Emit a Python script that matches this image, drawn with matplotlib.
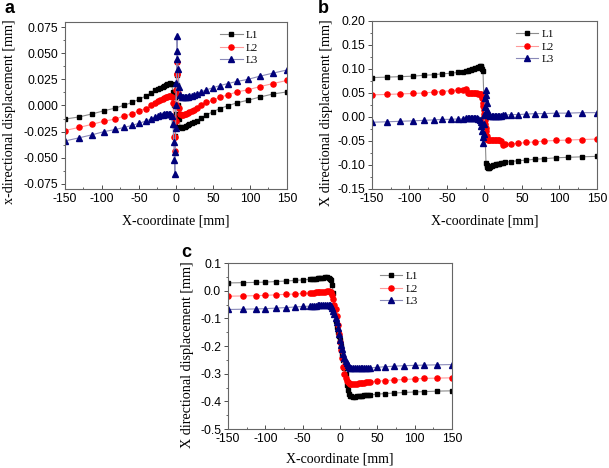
import matplotlib
matplotlib.use("Agg")
import matplotlib.pyplot as plt
from matplotlib.ticker import MultipleLocator, AutoMinorLocator, FormatStrFormatter

plt.rcParams['axes.unicode_minus'] = False

# ---- panel a ----
xa = [-150, -131, -113, -97, -82, -70, -59, -50, -41, -34, -28, -24, -21, -18, -16, -14, -12, -10, -8, -6,
      -4, -3, -2, -1.5, -1, -0.5, 0, 0.5, 1, 1.5, 2, 3, 4,
      6, 8, 10, 12, 14, 16, 18, 21, 24, 28, 34, 41, 50, 59, 70, 82, 97, 113, 131, 150]
a_l1 = [-0.013, -0.011, -0.008, -0.005, -0.0025, 0.0003, 0.003, 0.006, 0.009, 0.012, 0.0145, 0.016, 0.017, 0.018, 0.019, 0.020, 0.0205, 0.021, 0.022, 0.021,
        0.013, 0.000, -0.016, -0.029, -0.020, -0.008, 0.000, 0.008, 0.020, 0.029, 0.016, 0.000, -0.013,
        -0.021, -0.022, -0.021, -0.0205, -0.020, -0.019, -0.018, -0.017, -0.016, -0.0145, -0.012, -0.009, -0.006, -0.003, -0.0003, 0.0025, 0.005, 0.008, 0.011, 0.013]
a_l2 = [-0.024, -0.021, -0.018, -0.015, -0.013, -0.010, -0.008, -0.005, -0.003, 0.000, 0.002, 0.004, 0.005, 0.006, 0.007, 0.008, 0.008, 0.009, 0.009, 0.008,
        0.002, -0.012, -0.030, -0.044, -0.030, -0.015, 0.000, 0.015, 0.030, 0.042, 0.030, 0.012, -0.002,
        -0.008, -0.009, -0.009, -0.008, -0.008, -0.007, -0.006, -0.005, -0.004, -0.002, 0.000, 0.003, 0.005, 0.008, 0.010, 0.013, 0.015, 0.018, 0.021, 0.024]
a_l3 = [-0.034, -0.031, -0.028, -0.025, -0.023, -0.021, -0.019, -0.017, -0.015, -0.013, -0.011, -0.010, -0.009, -0.009, -0.008, -0.008, -0.008, -0.008, -0.008, -0.010,
        -0.018, -0.035, -0.052, -0.066, -0.045, -0.022, 0.000, 0.022, 0.045, 0.067, 0.052, 0.035, 0.018,
        0.010, 0.008, 0.008, 0.008, 0.008, 0.008, 0.009, 0.009, 0.010, 0.011, 0.013, 0.015, 0.017, 0.019, 0.021, 0.023, 0.025, 0.028, 0.031, 0.034]

# ---- panel b ----
xb1 = [-150, -130, -112, -95, -80, -67, -56, -45, -35, -28, -25, -22, -20, -18, -16, -14, -12, -10, -8, -6,
       -5, -4, -3, -2, 2, 3, 4, 5,
       6, 8, 10, 12, 14, 16, 18, 20, 22, 25, 28, 35, 45, 56, 67, 80, 95, 112, 130, 150]
b_l1 = [0.082, 0.083, 0.084, 0.085, 0.087, 0.088, 0.090, 0.091, 0.093, 0.094, 0.095, 0.096, 0.097, 0.098, 0.099, 0.100, 0.101, 0.102, 0.104, 0.106,
        0.107, 0.105, 0.100, 0.095, -0.095, -0.100, -0.105, -0.107,
        -0.106, -0.104, -0.102, -0.101, -0.100, -0.099, -0.098, -0.097, -0.096, -0.095, -0.094, -0.093, -0.091, -0.090, -0.088, -0.087, -0.085, -0.084, -0.083, -0.082]
xb = [-150, -130, -112, -95, -80, -67, -56, -45, -35, -28, -25, -22, -20, -18, -16, -14, -12, -10, -8, -6,
      -5, -4, -3, -2, -1.5, -1, -0.5, 0, 0.5, 1, 1.5, 2, 3, 4, 5,
      6, 8, 10, 12, 14, 16, 18, 20, 22, 25, 28, 35, 45, 56, 67, 80, 95, 112, 130, 150]
b_l2 = [0.046, 0.047, 0.048, 0.049, 0.050, 0.052, 0.053, 0.055, 0.056, 0.057, 0.058, 0.050, 0.049, 0.049, 0.049, 0.049, 0.049, 0.049, 0.048, 0.048,
        0.047, 0.045, 0.040, 0.030, 0.022, 0.015, 0.007, 0.000, -0.007, -0.015, -0.022, -0.030, -0.040, -0.045, -0.047,
        -0.048, -0.048, -0.049, -0.049, -0.049, -0.049, -0.049, -0.049, -0.050, -0.058, -0.057, -0.056, -0.055, -0.053, -0.052, -0.050, -0.049, -0.048, -0.047, -0.046]
b_l3 = [-0.011, -0.010, -0.009, -0.008, -0.007, -0.006, -0.005, -0.005, -0.004, -0.004, -0.003, -0.003, -0.003, -0.003, -0.003, -0.003, -0.003, -0.003, -0.004, -0.006,
        -0.010, -0.018, -0.030, -0.042, -0.055, -0.035, -0.015, 0.005, 0.020, 0.040, 0.057, 0.045, 0.030, 0.015, 0.008,
        0.004, 0.003, 0.003, 0.003, 0.003, 0.003, 0.003, 0.003, 0.003, 0.004, 0.004, 0.005, 0.005, 0.006, 0.007, 0.007, 0.008, 0.008, 0.009, 0.009]

# ---- panel c ----
xc = [-150, -130, -113, -100, -86, -72, -60, -50, -40,
      -37.5, -35, -32.5, -30, -27.5, -25, -22.5, -20, -17.5, -15, -13.5,
      -12, -10.5, -9, -7.5, -6, -4.5, -3, -1.5, 0, 1.5, 3, 4.5, 6, 7.5, 9, 10.5, 12,
      13.5, 15, 17.5, 20, 22.5, 25, 27.5, 30, 32.5, 35, 37.5,
      40, 50, 60, 72, 86, 100, 113, 130, 150]
c_l1 = [0.028, 0.029, 0.030, 0.031, 0.033, 0.035, 0.037, 0.039, 0.041,
        0.042, 0.043, 0.044, 0.045, 0.046, 0.046, 0.047, 0.048, 0.048, 0.047, 0.044,
        0.040, 0.020, -0.010, -0.070, -0.110, -0.130, -0.150, -0.165, -0.180, -0.200, -0.230, -0.250, -0.280, -0.300, -0.340, -0.360, -0.372,
        -0.379, -0.382, -0.383, -0.383, -0.382, -0.381, -0.380, -0.379, -0.378, -0.378, -0.377,
        -0.377, -0.374, -0.372, -0.370, -0.368, -0.366, -0.365, -0.363, -0.362]
c_l2 = [-0.020, -0.019, -0.018, -0.017, -0.015, -0.013, -0.012, -0.010, -0.008,
        -0.007, -0.007, -0.006, -0.006, -0.005, -0.004, -0.004, -0.003, -0.002, -0.002, -0.003,
        -0.005, -0.015, -0.030, -0.050, -0.065, -0.090, -0.125, -0.155, -0.185, -0.215, -0.245, -0.275, -0.300, -0.315, -0.325, -0.331, -0.334,
        -0.336, -0.337, -0.337, -0.336, -0.336, -0.335, -0.334, -0.333, -0.332, -0.331, -0.330,
        -0.330, -0.327, -0.325, -0.323, -0.321, -0.319, -0.317, -0.316, -0.315]
c_l3 = [-0.068, -0.067, -0.066, -0.065, -0.063, -0.061, -0.059, -0.057, -0.056,
        -0.055, -0.054, -0.054, -0.053, -0.053, -0.052, -0.052, -0.051, -0.051, -0.052, -0.053,
        -0.055, -0.062, -0.072, -0.085, -0.100, -0.115, -0.135, -0.155, -0.178, -0.195, -0.212, -0.228, -0.243, -0.255, -0.263, -0.270, -0.275,
        -0.278, -0.280, -0.281, -0.281, -0.281, -0.281, -0.280, -0.280, -0.280, -0.279, -0.279,
        -0.279, -0.277, -0.275, -0.273, -0.271, -0.270, -0.269, -0.268, -0.267]

labels = ['L1', 'L2', 'L3']
styles = [dict(marker='s', mfc='black', mec='black', color='#8c8c8c', ms=3.5),
          dict(marker='o', mfc='red', mec='red', color='#ff9a9a', ms=3.7),
          dict(marker='^', mfc='#00007a', mec='#00007a', color='#8a8ab8', ms=4.2)]

serif = ['Liberation Serif', 'DejaVu Serif']
sans = ['Liberation Sans', 'DejaVu Sans']


def draw_panel(ax, series, ylim, ystep, yfmt, ylabel, ylab_xy, xpad, letter, letter_pos, leg_x, fig):
    for (x, y), lab, st in zip(series, labels, styles):
        ax.plot(x, y, lw=0.8, label=lab, **st)
    ax.set_xlim(-150, 150)
    ax.set_ylim(*ylim)
    ax.xaxis.set_major_locator(MultipleLocator(50))
    ax.xaxis.set_minor_locator(AutoMinorLocator(2))
    ax.yaxis.set_major_locator(MultipleLocator(ystep))
    ax.yaxis.set_minor_locator(AutoMinorLocator(2))
    ax.yaxis.set_major_formatter(FormatStrFormatter(yfmt))
    ax.tick_params(axis='x', which='both', direction='in')
    ax.tick_params(axis='y', which='both', direction='out')
    ax.tick_params(which='both', top=False, right=False, color='0.3')
    ax.tick_params(which='major', length=3, width=0.7, labelsize=8.8, pad=2)
    ax.tick_params(which='minor', length=1.8, width=0.6)
    ax.tick_params(axis='x', which='major', pad=3)
    for t in ax.get_xticklabels() + ax.get_yticklabels():
        t.set_family(sans)
    for s in ax.spines.values():
        s.set_color('0.4')
        s.set_linewidth(0.8)
    ax.set_xlabel('X-coordinate [mm]', family=serif, fontsize=10, labelpad=xpad)
    ax.set_ylabel(ylabel, family=serif, fontsize=10.2, va='center')
    ax.yaxis.set_label_coords(*ylab_xy)
    ax.legend(loc='upper left', bbox_to_anchor=(leg_x, 0.99), frameon=False,
              prop=dict(family=serif, size=8), handlelength=2.0, labelspacing=0.25,
              handletextpad=0.3, borderaxespad=0.2)
    fig.text(letter_pos[0], letter_pos[1], letter, fontsize=13, fontweight='bold',
             family=sans, ha='left', va='top')


fig = plt.figure(figsize=(6.09, 4.68), dpi=100)
ax_a = fig.add_axes([0.1067, 0.5962, 0.3645, 0.3568])
ax_b = fig.add_axes([0.6108, 0.5962, 0.3695, 0.3590])
ax_c = fig.add_axes([0.3744, 0.0833, 0.3678, 0.3547])

draw_panel(ax_a, [(xa, a_l1), (xa, a_l2), (xa, a_l3)], (-0.08, 0.08), 0.025, '%.3f',
           'x-directional displacement [mm]', (-0.248, 0.465), 7,
           'a', (0.008, 1.0), 0.67, fig)
draw_panel(ax_b, [(xb1, b_l1), (xb, b_l2), (xb, b_l3)], (-0.15, 0.20), 0.05, '%.2f',
           'X directional displacement [mm]', (-0.204, 0.455), 7,
           'b', (0.522, 1.0), 0.61, fig)
draw_panel(ax_c, [(xc, c_l1), (xc, c_l2), (xc, c_l3)], (-0.5, 0.1), 0.1, '%.1f',
           'X directional displacement [mm]', (-0.179, 0.45), 5,
           'c', (0.298, 0.478), 0.65, fig)

fig.savefig('out.png', dpi=100)
